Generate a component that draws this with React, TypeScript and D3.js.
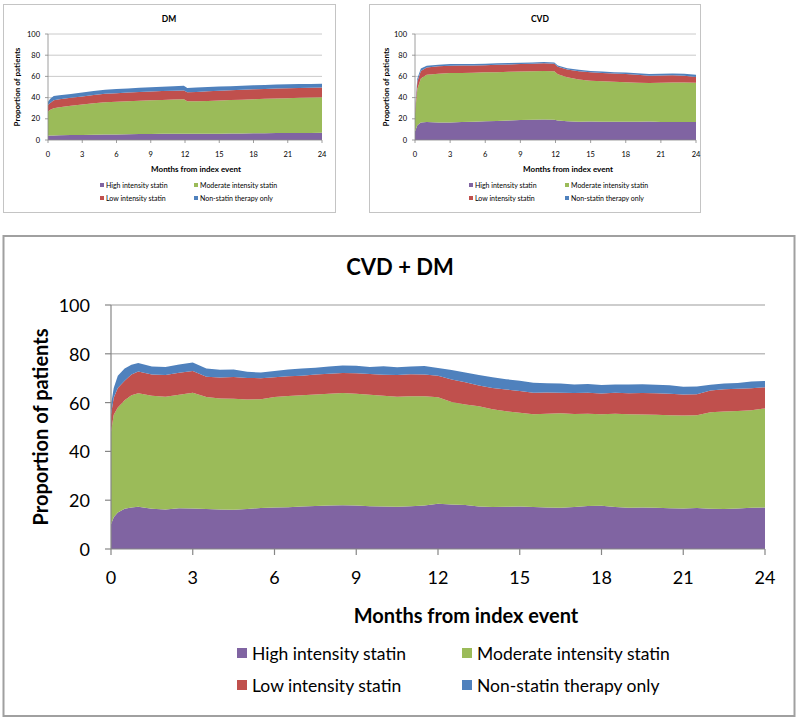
import React from "react";
import * as d3 from "d3";

const seriesKeys = ["high", "moderate", "low", "nonStatin"];
const seriesLabels = [
  "High intensity statin",
  "Moderate intensity statin",
  "Low intensity statin",
  "Non-statin therapy only",
];
const seriesColors = ["#8064A2", "#9BBB59", "#C0504D", "#4F81BD"];
const xTicks = [0, 3, 6, 9, 12, 15, 18, 21, 24];
const yTicks = [0, 20, 40, 60, 80, 100];

// small panels: months from index event
const smallMonths = [0, 0.2, 0.5, 1, 2, 3, 4, 5, 6, 7, 8, 9, 10, 11, 11.9, 12.2, 13, 14, 15, 16, 17, 18, 19, 20, 21, 22, 23, 24];

// DM
const dmHigh = [4, 4.2, 4.3, 4.4, 4.6, 4.8, 5, 5.1, 5.3, 5.5, 5.6, 5.7, 5.8, 5.9, 6, 5.8, 5.8, 5.9, 6, 6.1, 6.2, 6.3, 6.4, 6.5, 6.6, 6.6, 6.7, 6.8];
const dmModerate = [23, 24.3, 25.7, 26.6, 27.7, 28.7, 29.6, 30.4, 30.7, 31, 31.4, 31.9, 32, 32.3, 32.5, 30.7, 30.7, 30.9, 31.3, 31.6, 31.8, 32.2, 32.4, 32.6, 32.9, 33.2, 33.4, 33.6];
const dmLow = [6, 6.5, 7.5, 7.5, 7.5, 7.5, 7.9, 8.1, 8.2, 8.2, 8.3, 8.2, 8.4, 8.3, 8.3, 8.5, 8.8, 9.2, 9.2, 9.3, 9.5, 9.4, 9.4, 9.5, 9.4, 9.3, 9.2, 9.1];
const dmNonStatin = [3, 4, 4, 3.8, 3.7, 3.8, 3.8, 3.9, 3.8, 3.8, 3.9, 4, 4, 4.1, 4.4, 4, 4.2, 4, 4, 3.8, 3.7, 3.7, 3.8, 3.8, 3.7, 3.7, 3.6, 3.5];

// CVD
const cvdHigh = [8, 14, 16.5, 17, 16.5, 16.5, 17, 17.3, 17.6, 18, 18.5, 18.8, 19, 19.3, 19.2, 18.5, 17.8, 17.2, 17.5, 17.3, 17.2, 17.2, 17.2, 17.5, 17, 17, 17, 17];
const cvdModerate = [17, 34, 41.5, 44.5, 46.1, 46.6, 46.2, 46.2, 46.2, 46, 45.8, 45.8, 45.9, 45.9, 45.6, 43.5, 41.4, 39.8, 38.5, 38.2, 37.8, 37.3, 36.8, 36.3, 37, 37.2, 37.3, 37];
const cvdLow = [3, 7, 7, 6.8, 6.9, 6.9, 7, 6.9, 6.8, 6.9, 7, 7, 7, 7.1, 7.2, 7, 7.3, 7.8, 7.8, 7.8, 7.8, 7.8, 7.6, 6.7, 6.8, 6.8, 6.2, 5.5];
const cvdNonStatin = [2, 3, 2.5, 1.7, 1.5, 1.6, 1.5, 1.4, 1.4, 1.4, 1.3, 1.3, 1.3, 1.2, 1.2, 1.2, 1.3, 1.4, 1.4, 1.3, 1.2, 1.3, 1.4, 1.7, 1.7, 1.8, 2, 2];

// CVD + DM
const bothMonths = [0, 0.1, 0.25, 0.5, 0.75, 1, 1.5, 2, 2.5, 3, 3.5, 4, 4.5, 5, 5.5, 6, 6.5, 7, 7.5, 8, 8.5, 9, 9.5, 10, 10.5, 11, 11.5, 12, 12.5, 13, 13.5, 14, 14.5, 15, 15.5, 16, 16.5, 17, 17.5, 18, 18.5, 19, 19.5, 20, 20.5, 21, 21.5, 22, 22.5, 23, 23.5, 24];
const bothHigh = [10, 13, 15, 16.5, 17, 17.3, 16.5, 16.2, 16.7, 16.6, 16.4, 16.2, 16.1, 16.4, 16.8, 17, 17.1, 17.4, 17.6, 17.8, 17.9, 17.8, 17.5, 17.4, 17.3, 17.5, 17.8, 18.5, 18.2, 18, 17.4, 17.2, 17.3, 17.4, 17.2, 17, 16.9, 17.2, 17.6, 17.7, 17.2, 16.9, 17, 16.9, 16.7, 16.6, 16.8, 16.5, 16.4, 16.6, 16.9, 17];
const bothModerate = [38, 42, 43, 44.5, 46, 46.5, 46.3, 46.2, 46.5, 47.4, 45.9, 45.5, 45.5, 44.9, 44.6, 45.3, 45.6, 45.6, 45.7, 45.8, 46, 45.8, 45.7, 45.4, 45.1, 45.1, 44.8, 43.7, 42, 41.2, 41.1, 40.1, 39.2, 38.4, 38, 38.4, 38.7, 38.1, 37.8, 37.5, 38.2, 38.3, 38.1, 38.1, 38.1, 38.1, 38, 39.5, 40, 40, 40, 40.6];
const bothLow = [7, 7, 8, 8, 8.5, 8.9, 8.7, 8.9, 9, 9, 8.3, 8.6, 8.9, 8.8, 8.6, 8.1, 8.1, 8, 8.2, 8.2, 8.2, 8.4, 8.5, 8.6, 8.9, 9, 8.9, 8.8, 9.3, 9.1, 8.5, 8.7, 8.9, 9, 8.8, 8.7, 8.4, 8.6, 8.6, 8.5, 8.6, 8.6, 8.8, 8.8, 8.8, 8.6, 8.6, 9, 9.1, 9.1, 9, 8.7];
const bothNonStatin = [4, 4, 5, 5, 4, 3.5, 3.3, 3.3, 3.4, 3.4, 3.4, 3.2, 3.1, 2.5, 2.3, 2.6, 2.8, 3, 2.8, 3, 3.1, 3.1, 2.9, 3.5, 3.2, 3.2, 3.5, 3.2, 3.9, 4, 4.3, 4.4, 4.2, 4.2, 4.1, 3.8, 3.8, 3.5, 3.6, 3.5, 3.4, 3.6, 3.6, 3.5, 3.5, 3.2, 3.2, 2.3, 2.3, 2.3, 2.7, 2.6];

const FONT = "Lato, 'Open Sans', sans-serif";

function Panel({ title, months, high, moderate, low, nonStatin, L }) {
  const rows = months.map((m, i) => ({
    month: m,
    high: high[i],
    moderate: moderate[i],
    low: low[i],
    nonStatin: nonStatin[i],
  }));
  const stacked = d3.stack().keys(seriesKeys)(rows);
  const x = d3.scaleLinear().domain([0, 24]).range([L.left, L.right]);
  const y = d3.scaleLinear().domain([0, 100]).range([L.bottom, L.top]);
  const area = d3
    .area()
    .x((d) => x(d.data.month))
    .y0((d) => y(d[0]))
    .y1((d) => y(d[1]));

  return (
    <g>
      <rect x={L.box[0]} y={L.box[1]} width={L.box[2]} height={L.box[3]} fill="#fff" stroke={L.boxStroke} strokeWidth={L.boxWidth} />
      <text x={L.titleX} y={L.titleY} textAnchor="middle" dominantBaseline="central" fontWeight="bold" fontSize={L.titleFont} fill="#000">
        {title}
      </text>
      {yTicks.map((t) => (
        <g key={"y" + t}>
          {t > 0 && <line x1={L.left} x2={L.right} y1={y(t)} y2={y(t)} stroke="#bdbdbd" strokeWidth={L.gridW} />}
          <line x1={L.left - L.tickLen} x2={L.left} y1={y(t)} y2={y(t)} stroke="#868686" strokeWidth={L.lineW} />
          <text x={L.left - L.labelGap} y={y(t)} textAnchor="end" dominantBaseline="central" fontSize={L.tickFont} fill="#000">
            {t}
          </text>
        </g>
      ))}
      {stacked.map((s, i) => (
        <path key={s.key} d={area(s)} fill={seriesColors[i]} />
      ))}
      <line x1={L.left} x2={L.left} y1={L.top} y2={L.bottom} stroke="#868686" strokeWidth={L.lineW} />
      <line x1={L.left} x2={L.right} y1={L.bottom} y2={L.bottom} stroke="#868686" strokeWidth={L.lineW} />
      {xTicks.map((t) => (
        <g key={"x" + t}>
          <line x1={x(t)} x2={x(t)} y1={L.bottom} y2={L.bottom + L.tickLen} stroke="#868686" strokeWidth={L.lineW} />
          <text x={x(t)} y={L.xLabelY} textAnchor="middle" dominantBaseline="central" fontSize={L.tickFont} fill="#000">
            {t}
          </text>
        </g>
      ))}
      <text x={L.xTitleX} y={L.xTitleY} textAnchor="middle" dominantBaseline="central" fontWeight="bold" fontSize={L.axisFont} fill="#000">
        Months from index event
      </text>
      <text
        transform={`translate(${L.yTitleX},${(L.top + L.bottom) / 2}) rotate(-90)`}
        textAnchor="middle"
        dominantBaseline="central"
        fontWeight="bold"
        fontSize={L.axisFont}
        fill="#000"
      >
        Proportion of patients
      </text>
      {seriesLabels.map((lab, i) => {
        const cx = L.legendCols[i % 2];
        const cy = L.legendRows[Math.floor(i / 2)];
        return (
          <g key={lab}>
            <rect x={cx} y={cy - L.swatch / 2} width={L.swatch} height={L.swatch} fill={seriesColors[i]} />
            <text x={cx + L.swatch + L.swatchGap} y={cy} dominantBaseline="central" fontSize={L.legendFont} fill="#000">
              {lab}
            </text>
          </g>
        );
      })}
    </g>
  );
}

const dmLayout = {
  box: [3.5, 4.5, 332, 208], boxStroke: "#c4c4c4", boxWidth: 1,
  left: 48, right: 322, top: 34, bottom: 140,
  titleX: 169, titleY: 19, titleFont: 8.5,
  tickFont: 7.5, labelGap: 8, tickLen: 3, lineW: 0.8, gridW: 0.8, xLabelY: 154,
  axisFont: 8, xTitleX: 196, xTitleY: 169, yTitleX: 17,
  legendFont: 7, legendRows: [185, 198], legendCols: [100, 194], swatch: 4, swatchGap: 2,
};

const cvdLayout = {
  box: [369.5, 4.5, 331, 208], boxStroke: "#c4c4c4", boxWidth: 1,
  left: 415, right: 696, top: 34, bottom: 140,
  titleX: 540, titleY: 19, titleFont: 8.5,
  tickFont: 7.5, labelGap: 8, tickLen: 3, lineW: 0.8, gridW: 0.8, xLabelY: 154,
  axisFont: 8, xTitleX: 568, xTitleY: 169, yTitleX: 386,
  legendFont: 7, legendRows: [185, 198], legendCols: [469, 565], swatch: 4, swatchGap: 2,
};

const bothLayout = {
  box: [3.5, 236, 791, 480], boxStroke: "#a0a0a0", boxWidth: 2,
  left: 111, right: 765, top: 305, bottom: 549,
  titleX: 400, titleY: 266, titleFont: 22,
  tickFont: 18, labelGap: 21, tickLen: 6, lineW: 1.2, gridW: 1.6, xLabelY: 577,
  axisFont: 20, xTitleX: 466, xTitleY: 615, yTitleX: 40,
  legendFont: 17.5, legendRows: [653, 685], legendCols: [237, 462], swatch: 10, swatchGap: 5,
};

export default function App() {
  return (
    <div style={{ position: "absolute", left: 0, top: 0 }}>
      <svg width={800} height={725} style={{ display: "block", fontFamily: FONT }}>
        <rect width={800} height={725} fill="#fff" />
        <Panel title="DM" months={smallMonths} high={dmHigh} moderate={dmModerate} low={dmLow} nonStatin={dmNonStatin} L={dmLayout} />
        <Panel title="CVD" months={smallMonths} high={cvdHigh} moderate={cvdModerate} low={cvdLow} nonStatin={cvdNonStatin} L={cvdLayout} />
        <Panel title="CVD + DM" months={bothMonths} high={bothHigh} moderate={bothModerate} low={bothLow} nonStatin={bothNonStatin} L={bothLayout} />
      </svg>
    </div>
  );
}
